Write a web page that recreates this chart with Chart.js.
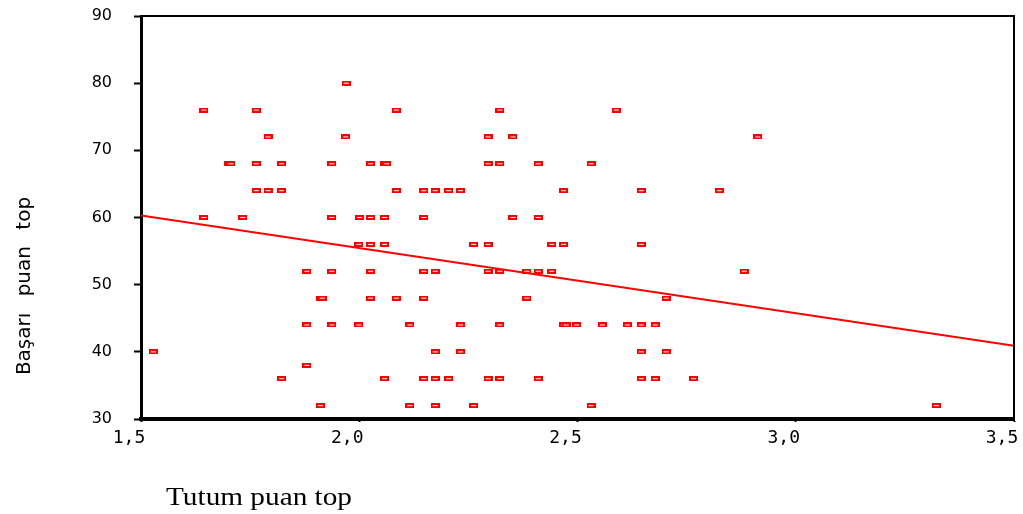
<!DOCTYPE html>
<html>
<head>
<meta charset="utf-8">
<script src="https://cdn.jsdelivr.net/npm/chart.js@4"></script>
<style>
  html, body { margin: 0; padding: 0; background: #fff; }
  #wrap { width: 1023px; height: 514px; }
</style>
</head>
<body>
<div id="wrap"><canvas id="scatter" width="1023" height="514"></canvas></div>
<script>
// Başarı puanları (satırlar) ve her satırdaki tutum puanları
const basariSeviyeleri = [80, 76, 72, 68, 64, 60, 56, 52, 48, 44, 40, 38, 36, 32];
const tutumPuanlari = [
    [1.97],
    [1.644, 1.764, 2.085, 2.322, 2.589],
    [1.791, 1.969, 2.295, 2.352, 2.913],
    [1.701, 1.706, 1.764, 1.822, 1.937, 2.026, 2.058, 2.063, 2.295, 2.322, 2.41, 2.531],
    [1.764, 1.791, 1.822, 2.085, 2.148, 2.174, 2.205, 2.232, 2.468, 2.646, 2.825],
    [1.644, 1.733, 1.937, 2.001, 2.026, 2.058, 2.148, 2.352, 2.41],
    [1.999, 2.026, 2.058, 2.262, 2.295, 2.441, 2.468, 2.646],
    [1.88, 1.937, 2.026, 2.148, 2.174, 2.295, 2.322, 2.384, 2.41, 2.441, 2.882],
    [1.911, 1.915, 2.026, 2.085, 2.148, 2.384, 2.703],
    [1.88, 1.937, 1.999, 2.116, 2.232, 2.322, 2.468, 2.474, 2.498, 2.557, 2.614, 2.646, 2.678],
    [1.528, 2.174, 2.232, 2.646, 2.703],
    [1.88],
    [1.822, 2.058, 2.148, 2.174, 2.205, 2.295, 2.322, 2.41, 2.646, 2.678, 2.766],
    [1.911, 2.116, 2.174, 2.262, 2.531, 3.322]
];

// Regresyon doğrusu (uç noktalar)
const regresyonX = [1.5, 3.5];
const regresyonY = [60.3, 40.9];

const xTicks = [1.5, 2.0, 2.5, 3.0, 3.5];
const yTicks = [30, 40, 50, 60, 70, 80, 90];

const kirmizi = "#ff0000";

const noktalar = [];
basariSeviyeleri.forEach(function(seviye, i) {
    tutumPuanlari[i].forEach(function(t) {
        noktalar.push({ x: t, y: seviye });
    });
});

const cizgi = regresyonX.map((x, i) => ({ x: x, y: regresyonY[i] }));

// küçük kırmızı dikdörtgen işaret
function isaretYap() {
    const c = document.createElement("canvas");
    c.width = 9;
    c.height = 5;
    const g = c.getContext("2d");
    g.fillStyle = kirmizi;
    g.fillRect(0, 0, 9, 5);
    g.fillStyle = "#fff";
    g.fillRect(2, 2, 5, 1);
    return c;
}

const cerceve = {
    id: "cerceve",
    afterDraw(chart) {
        const ctx = chart.ctx;
        const a = chart.chartArea;
        ctx.save();
        ctx.strokeStyle = "#000";
        ctx.lineWidth = 2;
        ctx.beginPath();
        ctx.moveTo(a.left, a.top);
        ctx.lineTo(a.right, a.top);
        ctx.lineTo(a.right, a.bottom);
        ctx.stroke();

        ctx.fillStyle = "#000";
        // x ekseni başlığı
        ctx.font = '25px "Liberation Serif"';
        ctx.textBaseline = "alphabetic";
        ctx.textAlign = "left";
        const xBaslik = "Tutum puan top";
        const w = ctx.measureText(xBaslik).width;
        ctx.save();
        ctx.translate(166, 505);
        ctx.scale(186 / w, 1);
        ctx.fillText(xBaslik, 0, 0);
        ctx.restore();

        // y ekseni başlığı
        ctx.font = '20px "DejaVu Sans"';
        ctx.textAlign = "center";
        ctx.textBaseline = "middle";
        if ("wordSpacing" in ctx) ctx.wordSpacing = "10px";
        ctx.translate(25, 286);
        ctx.rotate(-Math.PI / 2);
        ctx.fillText("Başarı puan top", 0, 0);
        ctx.restore();
    }
};

const ctx = document.getElementById("scatter").getContext("2d");

new Chart(ctx, {
    type: "scatter",
    data: {
        datasets: [
            {
                label: "Başarı puan top",
                data: noktalar,
                pointStyle: isaretYap(),
                pointRadius: 4,
                order: 2
            },
            {
                type: "line",
                label: "Doğrusal",
                data: cizgi,
                borderColor: kirmizi,
                borderWidth: 2,
                pointRadius: 0,
                fill: false,
                order: 1
            }
        ]
    },
    options: {
        responsive: false,
        animation: false,
        events: [],
        layout: { padding: { top: 16, right: 9, left: 0, bottom: 0 } },
        plugins: {
            legend: { display: false },
            tooltip: { enabled: false }
        },
        scales: {
            x: {
                type: "linear",
                min: 1.5,
                max: 3.5,
                afterBuildTicks: s => { s.ticks = xTicks.map(v => ({ value: v })); },
                ticks: {
                    callback: v => v.toFixed(1).replace(".", ","),
                    font: { family: "DejaVu Sans Mono", size: 18 },
                    color: "#000",
                    labelOffset: -12,
                    padding: 6,
                    maxRotation: 0,
                    autoSkip: false
                },
                grid: {
                    drawOnChartArea: false,
                    tickLength: 3,
                    tickWidth: 2,
                    tickColor: "#000"
                },
                border: { color: "#000", width: 4 },
                afterFit: s => {
                    s.height = 95;
                    s.paddingLeft = 0;
                    s.paddingRight = 0;
                }
            },
            y: {
                min: 30,
                max: 90,
                afterBuildTicks: s => { s.ticks = yTicks.map(v => ({ value: v })); },
                ticks: {
                    font: { family: "DejaVu Sans", size: 16 },
                    color: "#000",
                    padding: 22
                },
                grid: {
                    drawOnChartArea: false,
                    tickLength: 7,
                    tickWidth: 2,
                    tickColor: "#000"
                },
                border: { color: "#000", width: 3 },
                afterFit: s => {
                    s.width = 141;
                    s.paddingTop = 0;
                    s.paddingBottom = 0;
                }
            }
        }
    },
    plugins: [cerceve]
});
</script>
</body>
</html>
